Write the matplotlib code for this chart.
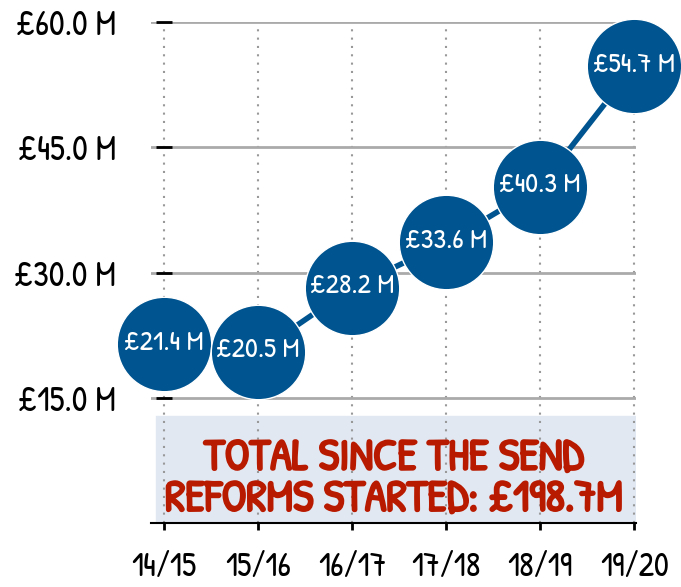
import matplotlib
matplotlib.use("Agg")
import matplotlib.pyplot as plt
import matplotlib.patheffects as pe

categories = ["14/15", "15/16", "16/17", "17/18", "18/19", "19/20"]
values = [21.4, 20.5, 28.2, 33.6, 40.3, 54.7]
ytick_values = [15, 30, 45, 60]
ytick_labels = ["£15.0 M", "£30.0 M", "£45.0 M", "£60.0 M"]
point_labels = ["£21.4 M", "£20.5 M", "£28.2 M", "£33.6 M", "£40.3 M", "£54.7 M"]
note_text = "TOTAL SINCE THE SEND\nREFORMS STARTED: £198.7M"

BLUE = "#00548f"
RED = "#b81a00"
BOX = "#e2e8f2"
FONT = ["Patrick Hand", "DejaVu Sans"]

fig = plt.figure(figsize=(6.81, 5.87), dpi=100)
ax = fig.add_axes([0.222, 0.109, 0.712, 0.8535])
ax.spines["left"].set_position(("data", 0))
ax.spines["left"].set_visible(False)
ax.spines["top"].set_visible(False)
ax.spines["right"].set_visible(False)
ax.spines["bottom"].set_linewidth(1.5)
ax.spines["bottom"].set_color("black")

x = list(range(len(categories)))
ax.set_xlim(-0.138, 5.02)
ax.set_ylim(0, 60)

ax.axhspan(0, 12.8, xmin=0.01, xmax=1.0, color=BOX, zorder=0.5)

ax.grid(axis="y", color="#aaaaaa", linewidth=2, linestyle="-", zorder=0)
ax.grid(axis="x", color="#999999", linewidth=1.5, linestyle=(0, (1, 3)), zorder=1)
ax.set_axisbelow(True)

ax.plot(x, values, color=BLUE, linewidth=4, zorder=3, clip_on=False)
ax.plot(x, values, linestyle="none", marker="o", markersize=68, clip_on=False,
        markerfacecolor=BLUE, markeredgecolor="white", markeredgewidth=1.0, zorder=4)
for xi, v, lab in zip(x, values, point_labels):
    ax.text(xi, v, lab, color="white", ha="center", va="center", fontsize=20.5,
            family=FONT, zorder=5)

ax.text(2.45, 5.0, note_text, color=RED, ha="center", va="center", fontsize=32,
        family=FONT, linespacing=0.85, zorder=2,
        path_effects=[pe.withStroke(linewidth=1.6, foreground=RED)])

ax.set_xticks(x)
ax.set_yticks(ytick_values)
ax.tick_params(axis="y", direction="inout", length=11, width=2, pad=29, color="black")
ax.tick_params(axis="x", direction="out", length=5, width=2, pad=16, color="black")
ax.set_xticklabels(categories, family=FONT, fontsize=24)
ax.set_yticklabels(ytick_labels, family=FONT, fontsize=25)

fig.savefig("out.png", dpi=100)
